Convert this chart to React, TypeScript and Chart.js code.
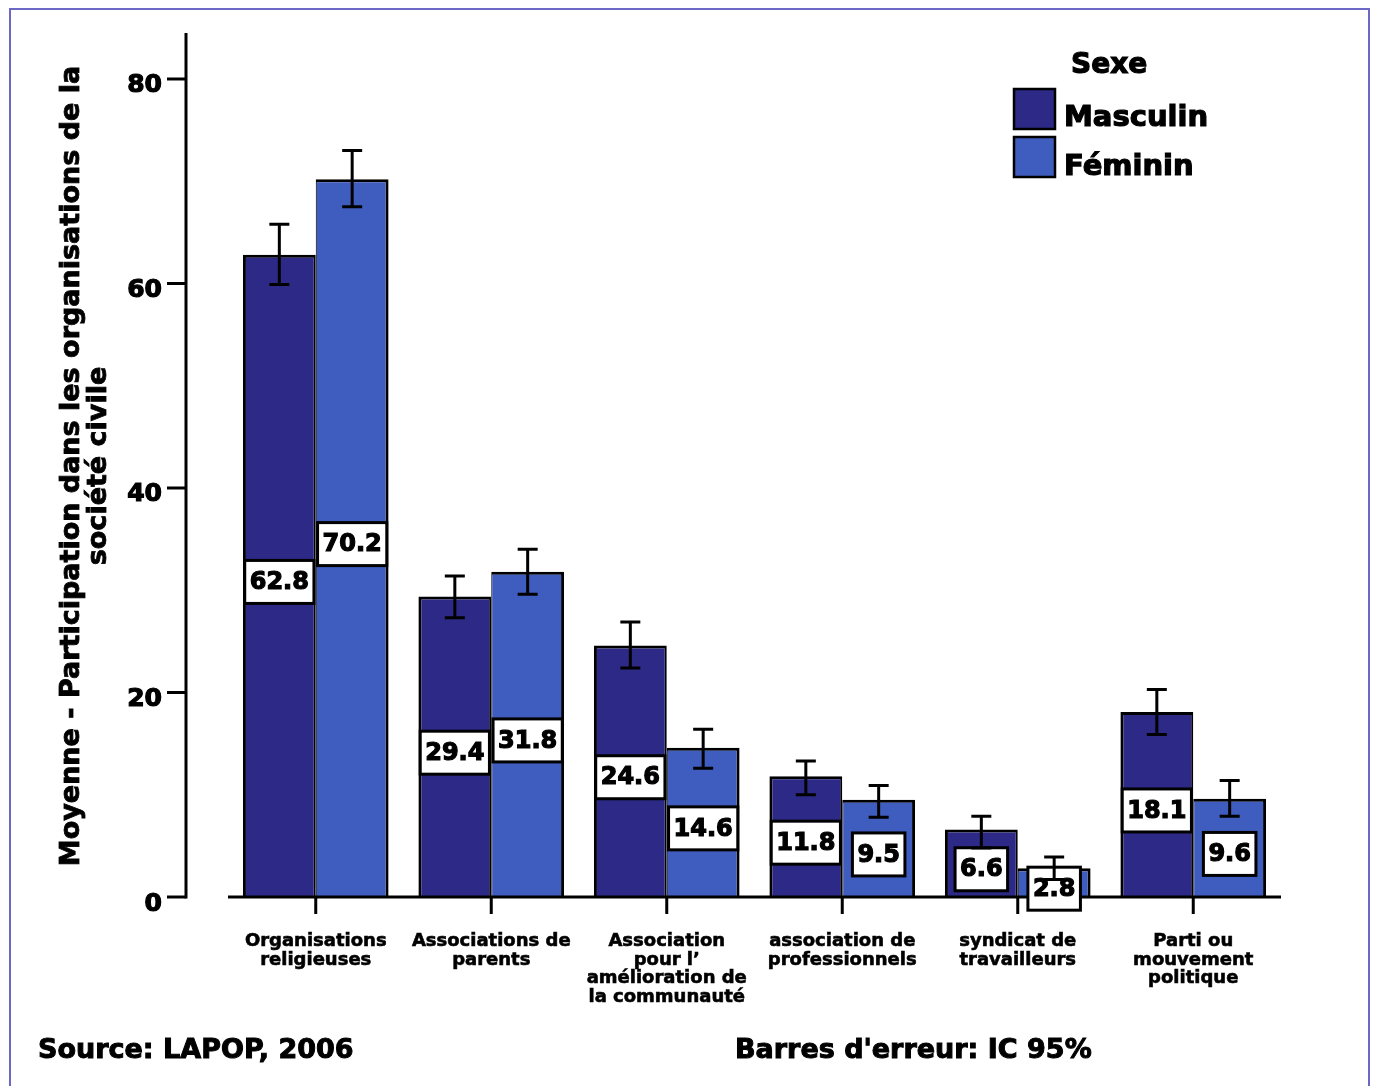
import React, { useEffect, useRef } from "react";
import { Chart, registerables } from "chart.js";

Chart.register(...registerables);

// ---------- data ----------
const CATEGORIES: string[][] = [
  ["Organisations", "religieuses"],
  ["Associations de", "parents"],
  ["Association", "pour l’", "amélioration de", "la communauté"],
  ["association de", "professionnels"],
  ["syndicat de", "travailleurs"],
  ["Parti ou", "mouvement", "politique"],
];
const SERIES_NAMES = ["Masculin", "Féminin"];
const MASCULIN = [62.8, 29.4, 24.6, 11.8, 6.6, 18.1];
const FEMININ = [70.2, 31.8, 14.6, 9.5, 2.8, 9.6];
const MASC_CI_LOW = [59.9, 27.3, 22.4, 10.0, 4.8, 15.9];
const MASC_CI_HIGH = [65.8, 31.4, 26.9, 13.3, 7.9, 20.3];
const FEM_CI_LOW = [67.5, 29.6, 12.6, 7.8, 1.7, 7.9];
const FEM_CI_HIGH = [73.0, 34.0, 16.4, 10.9, 3.9, 11.4];
const Y_TICKS = [0, 20, 40, 60, 80];
const Y_MIN = 0;
const Y_MAX = 84.4;
const Y_TITLE = ["Moyenne - Participation dans les organisations de la", "société civile"];
const LEGEND_TITLE = "Sexe";
const FOOTER_LEFT = "Source: LAPOP, 2006";
const FOOTER_RIGHT = "Barres d'erreur: IC 95%";
const COLORS = ["#2c2a86", "#3f5dbf"];

const FONT = '"DejaVu Sans", "Liberation Sans", sans-serif';

function heavyText(ctx: CanvasRenderingContext2D, txt: string, x: number, y: number, w = 1) {
  ctx.save();
  ctx.lineWidth = w;
  ctx.lineJoin = "miter";
  ctx.strokeStyle = ctx.fillStyle as string;
  ctx.strokeText(txt, x, y);
  ctx.fillText(txt, x, y);
  ctx.restore();
}

export default function App() {
  const ref = useRef<HTMLCanvasElement>(null);

  useEffect(() => {
    const canvas = ref.current;
    if (!canvas) return;
    const lows = [MASC_CI_LOW, FEM_CI_LOW];
    const highs = [MASC_CI_HIGH, FEM_CI_HIGH];
    const values = [MASCULIN, FEMININ];

    const plugin = {
      id: "spssDecor",
      beforeDraw(chart: any) {
        const ctx = chart.ctx as CanvasRenderingContext2D;
        ctx.save();
        ctx.fillStyle = "#ffffff";
        ctx.fillRect(0, 0, chart.width, chart.height);
        ctx.strokeStyle = "#6b68c6";
        ctx.lineWidth = 2;
        ctx.strokeRect(10, 9, 1359, 1100);
        ctx.restore();
      },
      afterDatasetsDraw(chart: any) {
        const ctx = chart.ctx as CanvasRenderingContext2D;
        const xs = chart.scales.x;
        const ys = chart.scales.y;
        const area = chart.chartArea;
        const y0 = ys.getPixelForValue(0);
        ctx.save();
        ctx.strokeStyle = "#000";
        ctx.fillStyle = "#000";
        ctx.lineCap = "butt";

        // Y axis (detached from plot)
        const axX = 186;
        ctx.lineWidth = 3;
        ctx.beginPath();
        ctx.moveTo(axX, area.top - 1);
        ctx.lineTo(axX, y0 + 1.5);
        ctx.stroke();
        ctx.font = `bold 25px ${FONT}`;
        ctx.textAlign = "right";
        ctx.textBaseline = "middle";
        Y_TICKS.forEach((t) => {
          const y = ys.getPixelForValue(t);
          ctx.lineWidth = 3;
          ctx.beginPath();
          ctx.moveTo(167, y);
          ctx.lineTo(axX, y);
          ctx.stroke();
          heavyText(ctx, String(t), 162, y + 7, 1.2);
        });

        // X axis
        ctx.lineWidth = 3;
        ctx.beginPath();
        ctx.moveTo(area.left, y0);
        ctx.lineTo(area.right, y0);
        ctx.stroke();
        ctx.font = `bold 18px ${FONT}`;
        ctx.textAlign = "center";
        ctx.textBaseline = "alphabetic";
        CATEGORIES.forEach((lines, j) => {
          const x = xs.getPixelForValue(j);
          ctx.lineWidth = 3;
          ctx.beginPath();
          ctx.moveTo(x, y0);
          ctx.lineTo(x, y0 + 17);
          ctx.stroke();
          lines.forEach((ln, k) => heavyText(ctx, ln, x, 946 + k * 18.7, 0.6));
        });

        // value labels
        ctx.font = `bold 24px ${FONT}`;
        ctx.textBaseline = "middle";
        ctx.textAlign = "center";
        [0, 1].forEach((d) => {
          const meta = chart.getDatasetMeta(d);
          meta.data.forEach((el: any, j: number) => {
            const txt = values[d][j].toFixed(1);
            const w = ctx.measureText(txt).width + 10;
            const h = 43;
            const cy = (el.y + el.base) / 2 + 6;
            ctx.fillStyle = "#fff";
            ctx.fillRect(el.x - w / 2, cy - h / 2, w, h);
            ctx.lineWidth = 3;
            ctx.strokeStyle = "#000";
            ctx.strokeRect(el.x - w / 2, cy - h / 2, w, h);
            ctx.fillStyle = "#000";
            heavyText(ctx, txt, el.x, cy + 1, 1.2);
          });
        });

        // error bars
        ctx.strokeStyle = "#000";
        ctx.lineWidth = 3;
        [0, 1].forEach((d) => {
          const meta = chart.getDatasetMeta(d);
          meta.data.forEach((el: any, j: number) => {
            const yh = ys.getPixelForValue(highs[d][j]);
            const yl = ys.getPixelForValue(lows[d][j]);
            const cap = 10;
            ctx.beginPath();
            ctx.moveTo(el.x, yh);
            ctx.lineTo(el.x, yl);
            ctx.moveTo(el.x - cap, yh);
            ctx.lineTo(el.x + cap, yh);
            ctx.moveTo(el.x - cap, yl);
            ctx.lineTo(el.x + cap, yl);
            ctx.stroke();
          });
        });

        // Y title (rotated)
        ctx.font = `bold 27px ${FONT}`;
        ctx.textAlign = "center";
        ctx.textBaseline = "alphabetic";
        ctx.fillStyle = "#000";
        const baseX = [79, 106];
        Y_TITLE.forEach((ln, k) => {
          ctx.save();
          ctx.translate(baseX[k], 466);
          ctx.rotate(-Math.PI / 2);
          heavyText(ctx, ln, 0, 0, 0.8);
          ctx.restore();
        });

        // legend
        ctx.textAlign = "left";
        ctx.font = `bold 28px ${FONT}`;
        heavyText(ctx, LEGEND_TITLE, 1071, 73, 1.2);
        ctx.font = `bold 29px ${FONT}`;
        const swY = [89, 137];
        const txY = [126, 175];
        SERIES_NAMES.forEach((name, k) => {
          ctx.fillStyle = COLORS[k];
          ctx.fillRect(1014, swY[k], 41, 40);
          ctx.lineWidth = 2.5;
          ctx.strokeStyle = "#000";
          ctx.strokeRect(1014, swY[k], 41, 40);
          ctx.fillStyle = "#000";
          heavyText(ctx, name, 1064, txY[k], 1.2);
        });

        // footer
        ctx.font = `bold 27px ${FONT}`;
        heavyText(ctx, FOOTER_LEFT, 38, 1058, 1.0);
        heavyText(ctx, FOOTER_RIGHT, 735, 1058, 1.0);

        ctx.restore();
      },
    };

    const chart = new Chart(canvas, {
      type: "bar",
      data: {
        labels: CATEGORIES.map((c) => c.join(" ")),
        datasets: [
          {
            label: SERIES_NAMES[0],
            data: MASCULIN,
            backgroundColor: COLORS[0],
            borderColor: "#000",
            borderWidth: { top: 3, left: 3, right: 2, bottom: 0 },
            borderSkipped: false,
            categoryPercentage: 0.83,
            barPercentage: 1,
          },
          {
            label: SERIES_NAMES[1],
            data: FEMININ,
            backgroundColor: COLORS[1],
            borderColor: "#000",
            borderWidth: { top: 3, left: 1, right: 3, bottom: 0 },
            borderSkipped: false,
            categoryPercentage: 0.83,
            barPercentage: 1,
          },
        ],
      },
      options: {
        animation: false,
        responsive: false,
        maintainAspectRatio: false,
        devicePixelRatio: 1,
        layout: { padding: { left: 228, right: 95, top: 34, bottom: 189 } },
        plugins: {
          legend: { display: false },
          tooltip: { enabled: false },
          title: { display: false },
        },
        scales: {
          x: { display: false },
          y: { display: false, min: Y_MIN, max: Y_MAX },
        },
      },
      plugins: [plugin],
    } as any);

    return () => chart.destroy();
  }, []);

  return (
    <div style={{ position: "absolute", left: 0, top: 0, width: 1376, height: 1086, background: "#fff" }}>
      <canvas ref={ref} width={1376} height={1086} style={{ display: "block", width: 1376, height: 1086 }} />
    </div>
  );
}
